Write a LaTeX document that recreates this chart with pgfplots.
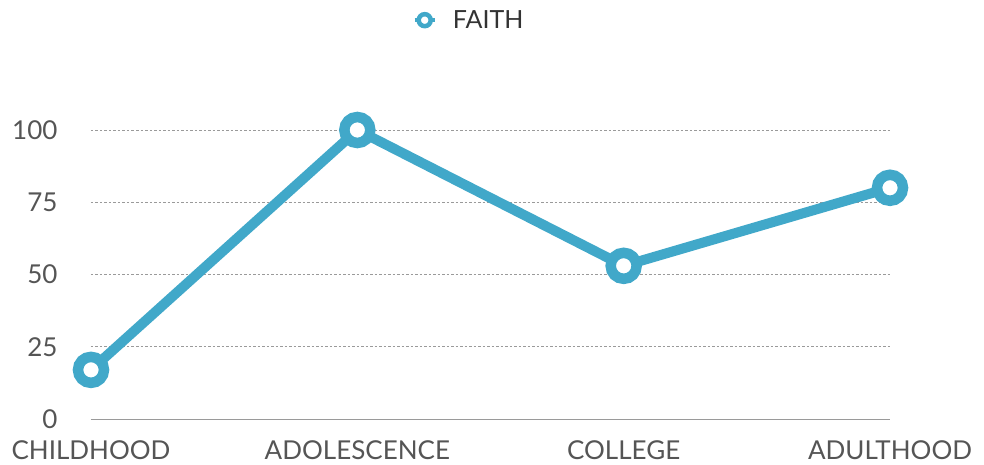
\documentclass[border=0pt]{standalone}
\usepackage{pgfplots}
\pgfplotsset{compat=1.18}
\usepackage{fontspec}
\setmainfont{Lato}
\definecolor{faith}{HTML}{41A8C9}
\definecolor{tickc}{HTML}{555555}
\definecolor{gridc}{HTML}{9A9A9A}
\begin{document}
\begin{tikzpicture}[x=1pt,y=1pt]
\path[use as bounding box] (-91,-46) rectangle (893,419);
\begin{axis}[
  at={(0,0)}, anchor=origin,
  scale only axis, width=799pt, height=289pt,
  xmin=0, xmax=3, ymin=0, ymax=100,
  clip=false,
  axis x line*=bottom, axis y line*=left,
  x axis line style={draw=gridc, line width=0.8pt, -},
  y axis line style={draw=none},
  xtick={0,1,2,3},
  xticklabels={CHILDHOOD,ADOLESCENCE,COLLEGE,ADULTHOOD},
  ytick={0,25,50,75,100},
  ymajorgrids, grid style={gridc, line width=0.6pt, dash pattern=on 2.5pt off 2pt},
  major tick length=0pt,
  x tick label style={font=\fontsize{26}{30}\selectfont, text=tickc, yshift=-18pt},
  y tick label style={font=\fontsize{26}{30}\selectfont, text=tickc},
  yticklabel style={xshift=-30pt},
  /pgf/number format/assume math mode=true,
  legend style={at={(axis description cs:0.473,1.38)}, anchor=center, draw=none, fill=none,
    font=\fontsize{25}{29}\selectfont, text=black!80},
  legend image code/.code={
    \draw[faith, line width=4.5pt] (0pt,0pt) -- (20pt,0pt);
    \draw[faith, line width=4.5pt, fill=white] (10pt,0pt) circle (6pt);
  },
]
\addplot[faith, line width=10pt, mark=*, mark size=13pt,
  mark options={fill=white, draw=faith, line width=10.5pt}] coordinates {
  (0,17) (1,100) (2,53) (3,80)
};
\addlegendentry{\hspace{14pt}FAITH}
\end{axis}
\end{tikzpicture}
\end{document}
